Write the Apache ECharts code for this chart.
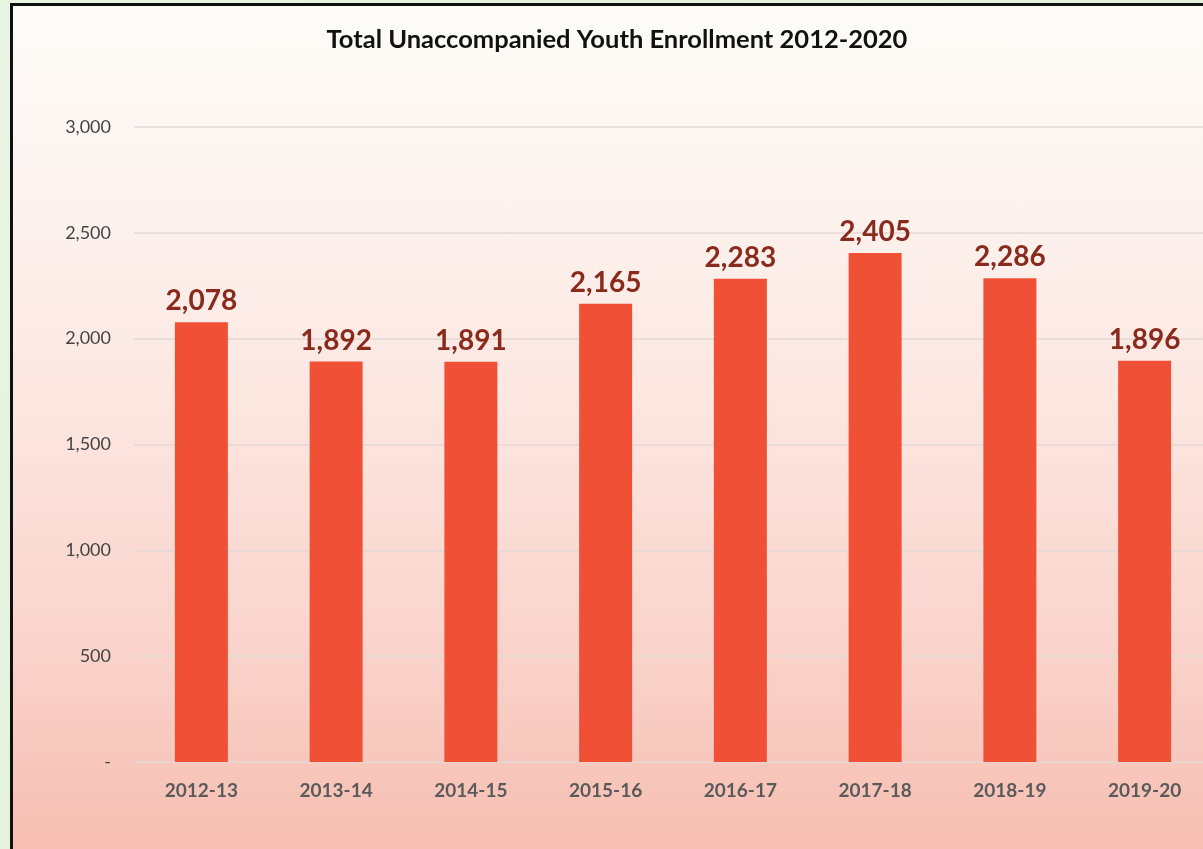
<!DOCTYPE html>
<html>
<head>
<meta charset="utf-8">
<script src="https://cdn.jsdelivr.net/npm/echarts@6/dist/echarts.min.js"></script>
<style>
html,body{margin:0;padding:0;width:1203px;height:849px;overflow:hidden;}
body{background:linear-gradient(135deg,#e8f5e2 0%,#e2f1db 60%,#bfe3ad 100%);position:relative;}
#panel{position:absolute;left:10px;top:3px;width:1200px;height:860px;border-left:3px solid #111;border-top:3px solid #111;
background:linear-gradient(180deg,#fdfcf8 0%,#fdf4f0 20%,#fce4de 50%,#f9d3cb 75%,#f6bcaf 100%);}
#chart{position:absolute;left:0;top:0;width:1230px;height:849px;}
</style>
</head>
<body>
<div id="panel"></div>
<div id="chart"></div>
<script>
const titleText = "Total Unaccompanied Youth Enrollment 2012-2020";
const categories = ["2012-13","2013-14","2014-15","2015-16","2016-17","2017-18","2018-19","2019-20"];
const enrollment = [2078,1892,1891,2165,2283,2405,2286,1896];
const yTicks = [0,500,1000,1500,2000,2500,3000];

const chart = echarts.init(document.getElementById('chart'), null, {renderer:'canvas'});
const fmt = v => v === 0 ? '-' : v.toLocaleString('en-US');
chart.setOption({
  backgroundColor:'transparent',
  animation:false,
  title:{text:titleText,left:612,textAlign:'center',top:22,
    textStyle:{fontFamily:'Lato',fontWeight:'bold',fontSize:25.5,color:'#111'}},
  grid:{left:134,top:127,width:1078,height:635,containLabel:false},
  xAxis:{type:'category',data:categories,
    axisLine:{show:false},axisTick:{show:false},
    axisLabel:{margin:19,fontFamily:'Lato',fontWeight:'bold',fontSize:19,color:'#5a5a5a'}},
  yAxis:{type:'value',min:yTicks[0],max:yTicks[yTicks.length-1],interval:500,
    axisLine:{show:false},axisTick:{show:false},
    axisLabel:{margin:23,fontFamily:'Lato',fontSize:18,color:'#444',formatter:fmt},
    splitLine:{lineStyle:{color:'#e3d9d5',width:1.5}}},
  series:[{type:'bar',data:enrollment,barWidth:53,
    itemStyle:{color:'#ef5036'},
    label:{show:true,position:'top',distance:7,fontFamily:'Lato',fontWeight:'bold',fontSize:28,color:'#8a2a1c',
      formatter:p=>p.value.toLocaleString('en-US')}}]
});
</script>
</body>
</html>
